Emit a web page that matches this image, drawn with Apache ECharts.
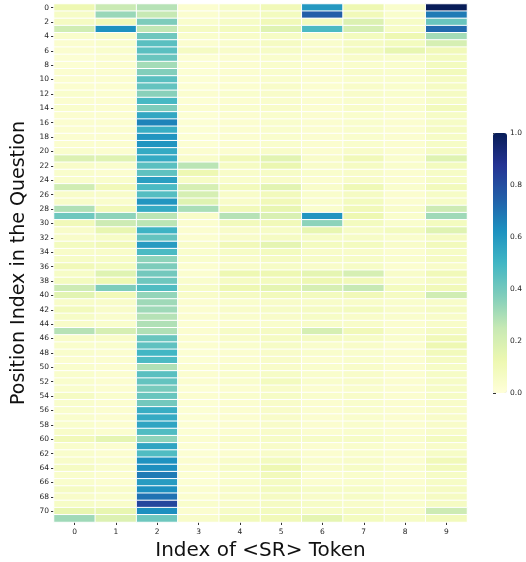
<!DOCTYPE html>
<html>
<head>
<meta charset="utf-8">
<script src="https://cdn.jsdelivr.net/npm/echarts@6/dist/echarts.min.js"></script>
<style>html,body{margin:0;padding:0;background:#fff}#c{width:526px;height:562px}</style>
</head>
<body>
<div id="c"></div>
<script>
// Columns: index of <SR> token (0..9); rows: position index 0..71
const srTokens = ['0','1','2','3','4','5','6','7','8','9'];
const positions = Array.from({length: 72}, (_, i) => String(i));
const colorbarTicks = [0, 0.2, 0.4, 0.6, 0.8, 1.0];

const sr0 = [0.12,0.06,0.07,0.22,0.04,0.03,0.03,0.02,0.02,0.03,
0.03,0.03,0.04,0.03,0.04,0.03,0.03,0.03,0.03,0.03,
0.04,0.18,0.05,0.04,0.04,0.22,0.05,0.05,0.29,0.41,
0.10,0.05,0.05,0.08,0.05,0.06,0.10,0.06,0.08,0.23,
0.16,0.05,0.09,0.06,0.05,0.28,0.05,0.04,0.04,0.03,
0.04,0.04,0.04,0.04,0.07,0.04,0.04,0.04,0.04,0.05,
0.10,0.04,0.04,0.05,0.07,0.04,0.04,0.07,0.05,0.06,
0.14,0.32];
const sr1 = [0.24,0.33,0.10,0.62,0.05,0.04,0.04,0.03,0.03,0.03,
0.03,0.03,0.03,0.03,0.03,0.03,0.03,0.03,0.03,0.03,
0.03,0.17,0.04,0.03,0.04,0.10,0.05,0.04,0.10,0.35,
0.23,0.14,0.06,0.10,0.05,0.06,0.08,0.17,0.12,0.38,
0.10,0.05,0.05,0.04,0.04,0.20,0.05,0.04,0.03,0.03,
0.03,0.03,0.03,0.03,0.04,0.03,0.03,0.03,0.03,0.03,
0.15,0.03,0.03,0.04,0.04,0.03,0.03,0.05,0.04,0.05,
0.14,0.18];
const sr2 = [0.28,0.25,0.38,0.26,0.41,0.45,0.45,0.42,0.31,0.37,
0.45,0.43,0.36,0.49,0.38,0.55,0.66,0.53,0.61,0.61,
0.54,0.54,0.45,0.44,0.58,0.48,0.46,0.61,0.54,0.27,
0.27,0.51,0.43,0.59,0.48,0.35,0.38,0.40,0.41,0.47,
0.34,0.32,0.32,0.28,0.29,0.29,0.42,0.44,0.50,0.48,
0.29,0.45,0.43,0.39,0.42,0.40,0.53,0.54,0.56,0.47,
0.35,0.56,0.47,0.62,0.63,0.68,0.59,0.63,0.70,0.82,
0.63,0.41];
const sr3 = [0.03,0.03,0.04,0.07,0.04,0.03,0.07,0.02,0.02,0.02,
0.02,0.02,0.03,0.02,0.03,0.02,0.02,0.02,0.02,0.02,
0.03,0.05,0.27,0.12,0.06,0.20,0.20,0.17,0.30,0.05,
0.03,0.03,0.03,0.05,0.04,0.04,0.03,0.03,0.04,0.06,
0.05,0.03,0.03,0.03,0.02,0.03,0.03,0.03,0.02,0.02,
0.03,0.03,0.03,0.02,0.03,0.02,0.02,0.02,0.02,0.02,
0.03,0.02,0.02,0.03,0.03,0.02,0.02,0.03,0.03,0.04,
0.03,0.05];
const sr4 = [0.06,0.05,0.06,0.08,0.05,0.04,0.05,0.03,0.03,0.03,
0.03,0.03,0.04,0.03,0.04,0.03,0.03,0.03,0.03,0.03,
0.03,0.10,0.07,0.05,0.04,0.09,0.05,0.05,0.10,0.28,
0.09,0.05,0.05,0.10,0.06,0.05,0.05,0.12,0.07,0.12,
0.07,0.04,0.05,0.04,0.03,0.06,0.05,0.04,0.03,0.03,
0.04,0.04,0.04,0.03,0.04,0.03,0.03,0.03,0.03,0.03,
0.05,0.03,0.03,0.05,0.06,0.04,0.04,0.05,0.05,0.05,
0.06,0.09];
const sr5 = [0.10,0.08,0.10,0.17,0.06,0.07,0.06,0.04,0.04,0.04,
0.04,0.05,0.05,0.04,0.05,0.04,0.04,0.04,0.04,0.04,
0.05,0.16,0.13,0.06,0.05,0.16,0.09,0.10,0.14,0.19,
0.10,0.06,0.07,0.15,0.08,0.07,0.06,0.12,0.08,0.15,
0.09,0.05,0.06,0.05,0.04,0.07,0.07,0.06,0.05,0.05,
0.05,0.06,0.08,0.05,0.06,0.05,0.05,0.05,0.05,0.05,
0.06,0.05,0.05,0.08,0.12,0.09,0.07,0.08,0.07,0.07,
0.08,0.10];
const sr6 = [0.60,0.75,0.08,0.48,0.05,0.04,0.05,0.03,0.03,0.03,
0.03,0.03,0.03,0.03,0.03,0.03,0.03,0.03,0.03,0.03,
0.03,0.05,0.05,0.04,0.03,0.05,0.04,0.04,0.04,0.61,
0.35,0.14,0.06,0.08,0.05,0.06,0.05,0.15,0.12,0.20,
0.08,0.05,0.07,0.06,0.05,0.20,0.07,0.04,0.04,0.03,
0.04,0.04,0.04,0.03,0.04,0.03,0.03,0.03,0.03,0.03,
0.06,0.03,0.03,0.04,0.05,0.03,0.03,0.06,0.05,0.06,
0.06,0.15];
const sr7 = [0.12,0.10,0.18,0.20,0.08,0.07,0.08,0.05,0.04,0.05,
0.04,0.05,0.05,0.04,0.05,0.04,0.04,0.04,0.04,0.04,
0.05,0.10,0.07,0.05,0.05,0.11,0.07,0.08,0.10,0.12,
0.08,0.06,0.06,0.08,0.05,0.06,0.06,0.20,0.10,0.25,
0.10,0.05,0.08,0.05,0.05,0.10,0.06,0.05,0.04,0.04,
0.05,0.05,0.05,0.04,0.05,0.04,0.04,0.04,0.04,0.04,
0.06,0.04,0.04,0.05,0.06,0.04,0.04,0.06,0.06,0.05,
0.07,0.08];
const sr8 = [0.04,0.04,0.06,0.06,0.12,0.08,0.14,0.04,0.04,0.04,
0.04,0.04,0.04,0.03,0.04,0.03,0.03,0.03,0.03,0.03,
0.03,0.04,0.04,0.03,0.03,0.04,0.03,0.03,0.05,0.04,
0.04,0.08,0.04,0.05,0.03,0.04,0.03,0.05,0.04,0.08,
0.07,0.04,0.05,0.04,0.03,0.04,0.04,0.03,0.03,0.03,
0.03,0.03,0.03,0.03,0.03,0.03,0.03,0.03,0.03,0.03,
0.04,0.03,0.03,0.03,0.04,0.03,0.03,0.04,0.04,0.04,
0.05,0.06];
const sr9 = [1.00,0.68,0.42,0.72,0.31,0.20,0.10,0.08,0.08,0.09,
0.07,0.07,0.07,0.06,0.09,0.06,0.06,0.07,0.06,0.06,
0.07,0.17,0.08,0.06,0.06,0.09,0.06,0.06,0.23,0.32,
0.08,0.17,0.07,0.09,0.06,0.07,0.05,0.10,0.07,0.10,
0.22,0.05,0.07,0.05,0.05,0.07,0.10,0.12,0.09,0.07,
0.06,0.06,0.06,0.06,0.06,0.05,0.05,0.05,0.05,0.05,
0.08,0.05,0.06,0.10,0.09,0.06,0.06,0.07,0.07,0.07,
0.23,0.09];

const columns = [sr0, sr1, sr2, sr3, sr4, sr5, sr6, sr7, sr8, sr9];
const data = [];
columns.forEach((col, x) => col.forEach((v, y) => data.push([x, y, v])));

const YlGnBu = ['#ffffd9','#edf8b1','#c7e9b4','#7fcdbb','#41b6c4','#1d91c0','#225ea8','#253494','#081d58'];
const font = 'DejaVu Sans';
const chart = echarts.init(document.getElementById('c'), null, {renderer: 'canvas'});
chart.setOption({
  animation: false,
  backgroundColor: '#fff',
  textStyle: {fontFamily: font},
  grid: [
    {left: 54, right: 59, top: 4, bottom: 40, containLabel: false, outerBoundsMode: 'none'},
    {left: 493, top: 133, width: 14, height: 260, containLabel: false, outerBoundsMode: 'none'}
  ],
  xAxis: [
    {
      type: 'category', data: srTokens, gridIndex: 0,
      axisLine: {show: false},
      axisTick: {show: true, alignWithLabel: true, length: 3, lineStyle: {color: '#333'}},
      axisLabel: {fontSize: 7.5, color: '#262626', fontFamily: font, margin: 6},
      splitLine: {show: false},
      name: 'Index of <SR> Token', nameLocation: 'middle', nameGap: 19,
      nameTextStyle: {fontSize: 20, color: '#111', fontFamily: font}
    },
    {type: 'value', gridIndex: 1, show: false, min: 0, max: 1}
  ],
  yAxis: [
    {
      type: 'category', data: positions, inverse: true, gridIndex: 0,
      axisLine: {show: false},
      axisTick: {show: true, alignWithLabel: true, interval: 1, length: 3, lineStyle: {color: '#333'}},
      axisLabel: {fontSize: 7.5, color: '#262626', fontFamily: font, interval: 1, margin: 5},
      splitLine: {show: false},
      name: 'Position Index in the Question', nameLocation: 'middle', nameGap: 19, nameRotate: 90,
      nameTextStyle: {fontSize: 19, color: '#111', fontFamily: font}
    },
    {
      type: 'value', gridIndex: 1, min: 0, max: 1, interval: 0.2, position: 'right',
      axisLine: {show: false},
      axisTick: {show: true, length: 3, lineStyle: {color: '#333'}},
      axisLabel: {fontSize: 7.5, color: '#262626', fontFamily: font, margin: 3,
        formatter: v => v.toFixed(1)},
      splitLine: {show: false}
    }
  ],
  visualMap: {
    type: 'continuous', min: 0, max: 1, calculable: false, seriesIndex: 0,
    orient: 'vertical', left: 493, top: 133, itemWidth: 14, itemHeight: 260,
    padding: 0, text: null, showLabel: false, hoverLink: false, indicatorSize: 0,
    inRange: {color: YlGnBu}
  },
  series: [{
    type: 'heatmap', data: data, xAxisIndex: 0, yAxisIndex: 0,
    itemStyle: {borderColor: '#ffffff', borderWidth: 1},
    emphasis: {disabled: true}
  }]
});
</script>
</body>
</html>
